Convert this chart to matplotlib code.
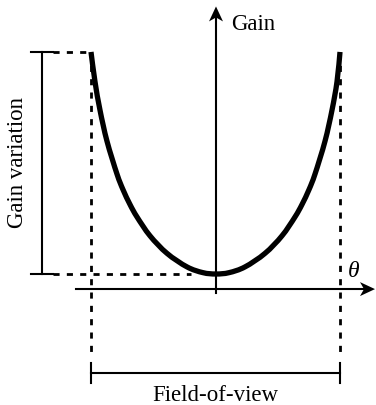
import matplotlib.pyplot as plt
from matplotlib.path import Path
from matplotlib.patches import PathPatch

# gain curve, theta normalised to the field-of-view half width,
# gain normalised to the gain variation (min = 0, edge = 1)
theta = [-1.0, -0.968, -0.928, -0.872, -0.792, -0.744, -0.688, -0.632, -0.528,
         -0.392, -0.232, -0.104, 0.0, 0.104, 0.232, 0.392, 0.528, 0.632, 0.688,
         0.744, 0.792, 0.872, 0.928, 0.968, 0.992]
gain = [1.0, 0.866, 0.738, 0.598, 0.450, 0.380, 0.313, 0.257, 0.172,
        0.093, 0.032, 0.006, 0.0, 0.006, 0.032, 0.093, 0.172, 0.257, 0.313,
        0.380, 0.450, 0.598, 0.738, 0.866, 1.0]

fov = (-1.0, 0.992)
gain_min, gain_max = 0.0, 1.0

SERIF = ['Liberation Serif', 'DejaVu Serif']
AX_LW = 1.5
DOT = (0, (2.2, 2.6))
FS = 16.5

W, H = 376, 405
XLIM = (-1.728, 1.28)
YLIM = (-0.59, 1.234)
PX = (XLIM[1] - XLIM[0]) / W   # data units per pixel, x
PY = (YLIM[1] - YLIM[0]) / H   # data units per pixel, y


def smooth_path(xs, ys):
    # cubic bezier segments through the points (catmull-rom tangents)
    pts = list(zip(xs, ys))
    verts = [pts[0]]
    codes = [Path.MOVETO]
    for i in range(len(pts) - 1):
        p0 = pts[i - 1] if i > 0 else pts[i]
        p1, p2 = pts[i], pts[i + 1]
        p3 = pts[i + 2] if i + 2 < len(pts) else p2
        c1 = (p1[0] + (p2[0] - p0[0]) / 6, p1[1] + (p2[1] - p0[1]) / 6)
        c2 = (p2[0] - (p3[0] - p1[0]) / 6, p2[1] - (p3[1] - p1[1]) / 6)
        verts += [c1, c2, p2]
        codes += [Path.CURVE4] * 3
    return Path(verts, codes)


def arrow_head(ax, tip, direction, length=15, half_w=7, notch=11):
    # stealth-style head; direction is 'right' or 'up'
    tx, ty = tip
    if direction == 'right':
        pts = [(tx, ty),
               (tx - length * PX, ty + half_w * PY),
               (tx - notch * PX, ty),
               (tx - length * PX, ty - half_w * PY)]
    else:
        pts = [(tx, ty),
               (tx - half_w * PX, ty - length * PY),
               (tx, ty - notch * PY),
               (tx + half_w * PX, ty - length * PY)]
    xs, ys = zip(*pts)
    ax.fill(xs, ys, color='black', lw=0, zorder=6)


fig = plt.figure(figsize=(W / 100, H / 100), dpi=100)
ax = fig.add_axes([0, 0, 1, 1])
ax.set_xlim(*XLIM)
ax.set_ylim(*YLIM)
ax.axis('off')

# axes
x_axis_y = -0.068
x_tip = 1.272
y_tip = 1.205
ax.plot([-1.12, x_tip - 10 * PX], [x_axis_y, x_axis_y], color='black', lw=AX_LW)
ax.plot([0, 0], [-0.086, y_tip - 10 * PY], color='black', lw=AX_LW)
arrow_head(ax, (x_tip, x_axis_y), 'right')
arrow_head(ax, (0, y_tip), 'up')

# gain curve
ax.add_patch(PathPatch(smooth_path(theta, gain), fill=False, color='black',
                       lw=3.8, capstyle='butt', joinstyle='round', zorder=5))

# field-of-view edges (dotted)
for t in fov:
    ax.plot([t, t], [gain_max, -0.35], color='black', lw=2.0, ls=DOT)

# gain variation marker
bar_x = -1.392
cap = 0.088
ax.plot([bar_x, bar_x], [gain_min, gain_max], color='black', lw=AX_LW)
for g in (gain_min, gain_max):
    ax.plot([bar_x - cap, bar_x + cap], [g, g], color='black', lw=AX_LW)
ax.plot([bar_x + cap, fov[0]], [gain_max, gain_max], color='black', lw=2.0, ls=DOT)
ax.plot([bar_x + cap, -0.2], [gain_min, gain_min], color='black', lw=2.0, ls=DOT)

# field-of-view marker
fov_y = -0.446
ax.plot(fov, [fov_y, fov_y], color='black', lw=AX_LW)
for t in fov:
    ax.plot([t, t], [fov_y - 0.045, fov_y + 0.045], color='black', lw=AX_LW)

# labels
ax.text(0.125, 1.125, 'Gain', family=SERIF, fontsize=FS, va='center', ha='left')
ax.text(1.105, 0.012, 'θ', family=SERIF, fontsize=17, style='italic',
        va='center', ha='center')
ax.text(-0.004, -0.548, 'Field-of-view', family=SERIF, fontsize=FS,
        va='center', ha='center')
ax.text(-1.588, 0.5, 'Gain variation', family=SERIF, fontsize=FS,
        rotation=90, va='center', ha='center')

fig.savefig('out.png', dpi=100)
